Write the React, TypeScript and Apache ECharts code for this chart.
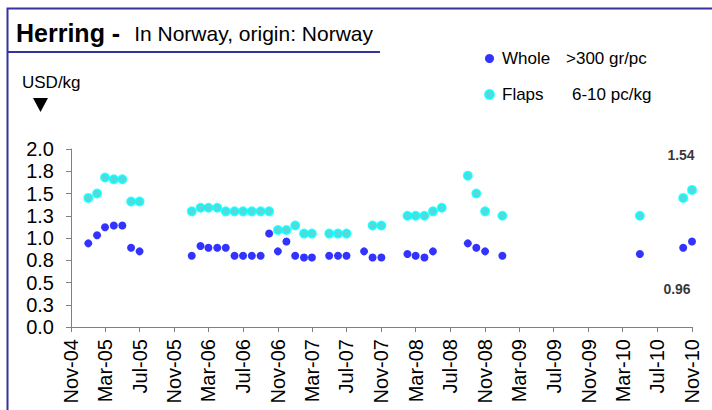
import React, { useEffect, useRef } from "react";
import * as echarts from "echarts";

const xTickLabels = ["Nov-04","Mar-05","Jul-05","Nov-05","Mar-06","Jul-06","Nov-06","Mar-07","Jul-07","Nov-07","Mar-08","Jul-08","Nov-08","Mar-09","Jul-09","Nov-09","Mar-10","Jul-10","Nov-10"];
const yTickLabels = ["0.0","0.3","0.5","0.8","1.0","1.3","1.5","1.8","2.0"];

const seriesNames = ["Whole", "Flaps"];
const legendNotes = [">300 gr/pc", "6-10 pc/kg"];

const wholeMonths = ["Jan-05","Feb-05","Mar-05","Apr-05","May-05","Jun-05","Jul-05","Jan-06","Feb-06","Mar-06","Apr-06","May-06","Jun-06","Jul-06","Aug-06","Sep-06","Oct-06","Nov-06","Dec-06","Jan-07","Feb-07","Mar-07","May-07","Jun-07","Jul-07","Sep-07","Oct-07","Nov-07","Feb-08","Mar-08","Apr-08","May-08","Sep-08","Oct-08","Nov-08","Jan-09","May-10","Oct-10","Nov-10"];
const wholeValues = [0.94,1.03,1.12,1.14,1.14,0.89,0.85,0.80,0.91,0.89,0.89,0.89,0.80,0.80,0.80,0.80,1.05,0.85,0.96,0.80,0.78,0.78,0.80,0.80,0.80,0.85,0.78,0.78,0.82,0.80,0.78,0.85,0.94,0.89,0.85,0.80,0.82,0.89,0.96];

const flapsMonths = ["Jan-05","Feb-05","Mar-05","Apr-05","May-05","Jun-05","Jul-05","Jan-06","Feb-06","Mar-06","Apr-06","May-06","Jun-06","Jul-06","Aug-06","Sep-06","Oct-06","Nov-06","Dec-06","Jan-07","Feb-07","Mar-07","May-07","Jun-07","Jul-07","Oct-07","Nov-07","Feb-08","Mar-08","Apr-08","May-08","Jun-08","Sep-08","Oct-08","Nov-08","Jan-09","May-10","Oct-10","Nov-10"];
const flapsValues = [1.45,1.50,1.68,1.66,1.66,1.41,1.41,1.30,1.34,1.34,1.34,1.30,1.30,1.30,1.30,1.30,1.30,1.09,1.09,1.14,1.05,1.05,1.05,1.05,1.05,1.14,1.14,1.25,1.25,1.25,1.30,1.34,1.70,1.50,1.30,1.25,1.25,1.45,1.54];

const MONTHS = ["Jan","Feb","Mar","Apr","May","Jun","Jul","Aug","Sep","Oct","Nov","Dec"];
const toTime = (label: string) => {
  const [m, y] = label.split("-");
  return Date.UTC(2000 + Number(y), MONTHS.indexOf(m), 1);
};

const FONT = "'Liberation Sans', Arial, sans-serif";
const NAVY = "#333399";

function buildData(months: string[], values: number[], labelOffset: [number, number]) {
  return months.map((m, i) => {
    const item: any = { value: [toTime(m), values[i]] };
    if (i === months.length - 1) {
      item.label = {
        show: true,
        position: "inside",
        offset: labelOffset,
        formatter: (p: any) => p.value[1].toFixed(2),
        fontFamily: FONT,
        fontSize: 14,
        fontWeight: "bold",
        color: "#000",
      };
    }
    return item;
  });
}

export default function App() {
  const ref = useRef<HTMLDivElement>(null);
  useEffect(() => {
    document.body.style.margin = "0";
    const chart = echarts.init(ref.current!, null, { renderer: "svg" });
    const tickTimes = xTickLabels.map(toTime);
    chart.setOption({
      animation: false,
      textStyle: { fontFamily: FONT },
      title: {
        left: 11,
        top: 15,
        text: "{a|Herring -}{b|In Norway, origin: Norway}",
        textStyle: {
          rich: {
            a: { fontFamily: FONT, fontSize: 25, fontWeight: "bold", color: "#000" },
            b: { fontFamily: FONT, fontSize: 21, fontWeight: "normal", color: "#000", padding: [2, 0, 0, 14] },
          },
        },
      },
      legend: {
        orient: "vertical",
        left: 484,
        top: 50,
        padding: 0,
        itemWidth: 9,
        itemHeight: 9,
        itemGap: 19,
        icon: "circle",
        data: seriesNames,
        formatter: (name: string) => {
          const i = seriesNames.indexOf(name);
          return i === 0 ? `{a|${name}}{n|${legendNotes[i]}}` : `{c|${name}}{n|${legendNotes[i]}}`;
        },
        textStyle: {
          fontFamily: FONT,
          fontSize: 17,
          color: "#000",
          rich: {
            a: { fontFamily: FONT, fontSize: 17, width: 64, padding: [0, 0, 0, 3] },
            c: { fontFamily: FONT, fontSize: 17, width: 70, padding: [0, 0, 0, 3] },
            n: { fontFamily: FONT, fontSize: 17 },
          },
        },
      },
      grid: { left: 71, right: 20, top: 149, bottom: 83, containLabel: false },
      xAxis: {
        type: "value",
        min: toTime(xTickLabels[0]),
        max: toTime(xTickLabels[xTickLabels.length - 1]),
        axisLine: { show: true, lineStyle: { color: "#808080", width: 1 } },
        axisTick: { show: true, inside: false, length: 5, customValues: tickTimes, lineStyle: { color: "#808080" } },
        axisLabel: {
          customValues: tickTimes,
          rotate: 90,
          margin: 12,
          fontFamily: FONT,
          fontSize: 20,
          color: "#000",
          formatter: (v: number) => {
            const i = tickTimes.indexOf(v);
            return i >= 0 ? xTickLabels[i] : "";
          },
        },
        splitLine: { show: false },
      },
      yAxis: {
        type: "value",
        min: 0,
        max: 2,
        interval: 0.25,
        axisLine: { show: true, lineStyle: { color: "#808080", width: 1 } },
        axisTick: { show: true, inside: false, length: 5, lineStyle: { color: "#808080" } },
        axisLabel: {
          margin: 17,
          fontFamily: FONT,
          fontSize: 20,
          color: "#000",
          formatter: (v: number) => yTickLabels[Math.round(v / 0.25)],
        },
        splitLine: { show: false },
      },
      series: [
        {
          name: seriesNames[0],
          type: "scatter",
          symbol: "circle",
          symbolSize: 8,
          itemStyle: { color: "#0000FF" },
          data: buildData(wholeMonths, wholeValues, [-15, 47]),
        },
        {
          name: seriesNames[1],
          type: "scatter",
          symbol: "circle",
          symbolSize: 8,
          itemStyle: { color: "#33CCCC", borderColor: "#00FFFF", borderWidth: 2 },
          data: buildData(flapsMonths, flapsValues, [-11, -35]),
        },
      ],
      graphic: [
        {
          type: "polyline",
          shape: { points: [[7.5, 420], [7.5, 8.5], [712, 8.5]] },
          style: { stroke: NAVY, lineWidth: 2, fill: null },
        },
        {
          type: "line",
          shape: { x1: 7, y1: 52, x2: 380, y2: 52 },
          style: { stroke: NAVY, lineWidth: 2 },
        },
        {
          type: "text",
          style: { text: "USD/kg", x: 22, y: 82, verticalAlign: "middle", font: `17px ${FONT}`, fill: "#000" },
        },
        {
          type: "polygon",
          shape: { points: [[33, 98], [48, 98], [40.5, 112]] },
          style: { fill: "#000" },
        },
      ],
    });
    return () => chart.dispose();
  }, []);
  return <div ref={ref} style={{ width: 712, height: 410 }} />;
}
